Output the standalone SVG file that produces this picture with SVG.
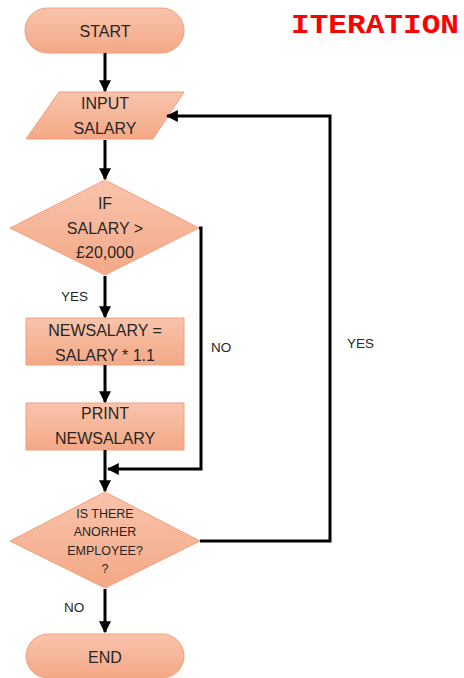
<svg xmlns="http://www.w3.org/2000/svg" width="464" height="678" viewBox="0 0 464 678">
<defs>
<linearGradient id="g" x1="0" y1="0" x2="0" y2="1">
<stop offset="0" stop-color="#F8C4AC"/>
<stop offset="1" stop-color="#F4A886"/>
</linearGradient>
<marker id="ah" viewBox="0 0 10 10" refX="9" refY="5" markerWidth="4" markerHeight="4" orient="auto" markerUnits="strokeWidth">
<path d="M0,0 L10,5 L0,10 z" fill="#000"/>
</marker>
<style>
.n{fill:url(#g);stroke:#F0A07E;stroke-width:1}
.t{font-family:"Liberation Sans","Open Sans",sans-serif;font-size:16px;fill:#262626;text-anchor:middle}
.s{font-size:12.5px}
.l{font-family:"Liberation Sans","Open Sans",sans-serif;font-size:13.5px;fill:#262626}
.c{fill:none;stroke:#000;stroke-width:3}
</style>
</defs>
<rect width="464" height="678" fill="#fff"/>
<text x="291" y="33" font-family="'Liberation Mono',monospace" font-weight="bold" font-size="27" fill="#FF0000" textLength="168" lengthAdjust="spacingAndGlyphs">ITERATION</text>
<g id="start"><rect class="n" x="25" y="8" width="159" height="45" rx="22.5"/><text class="t" x="105" y="37">START</text></g>
<g id="input"><polygon class="n" points="59,92 184,92 153,139 26,139"/><text class="t" x="105" y="109">INPUT</text><text class="t" x="105" y="134">SALARY</text></g>
<g id="if"><polygon class="n" points="105,180 199,228 105,275 10,228"/><text class="t" x="105" y="209">IF</text><text class="t" x="105" y="234">SALARY &gt;</text><text class="t" x="105" y="258">£20,000</text></g>
<g id="newsalary"><rect class="n" x="26" y="318" width="158" height="47"/><text class="t" x="105" y="336">NEWSALARY =</text><text class="t" x="105" y="361">SALARY * 1.1</text></g>
<g id="print"><rect class="n" x="26" y="403" width="158" height="47"/><text class="t" x="105" y="419">PRINT</text><text class="t" x="105" y="444">NEWSALARY</text></g>
<g id="another"><polygon class="n" points="105,492 200,541 105,588 10,541"/><text class="t s" x="105" y="518">IS THERE</text><text class="t s" x="105" y="536">ANORHER</text><text class="t s" x="105" y="555">EMPLOYEE?</text><text class="t s" x="105" y="573">?</text></g>
<g id="end"><rect class="n" x="26" y="634" width="158" height="44" rx="22"/><text class="t" x="105" y="663">END</text></g>
<g id="connectors">
<line class="c" x1="105" y1="53" x2="105" y2="91" marker-end="url(#ah)"/>
<line class="c" x1="105" y1="140" x2="105" y2="179" marker-end="url(#ah)"/>
<line class="c" x1="105" y1="276" x2="105" y2="317" marker-end="url(#ah)"/>
<line class="c" x1="105" y1="365" x2="105" y2="402" marker-end="url(#ah)"/>
<line class="c" x1="105" y1="450" x2="105" y2="491" marker-end="url(#ah)"/>
<polyline class="c" points="199,228 201,228 201,469 108,469" marker-end="url(#ah)"/>
<polyline class="c" points="200,541 330,541 330,116 167,116" marker-end="url(#ah)"/>
<line class="c" x1="105" y1="589" x2="105" y2="632" marker-end="url(#ah)"/>
<text class="l" x="61" y="301">YES</text>
<text class="l" x="211" y="352">NO</text>
<text class="l" x="347" y="348">YES</text>
<text class="l" x="64" y="612">NO</text>
</g>
</svg>
